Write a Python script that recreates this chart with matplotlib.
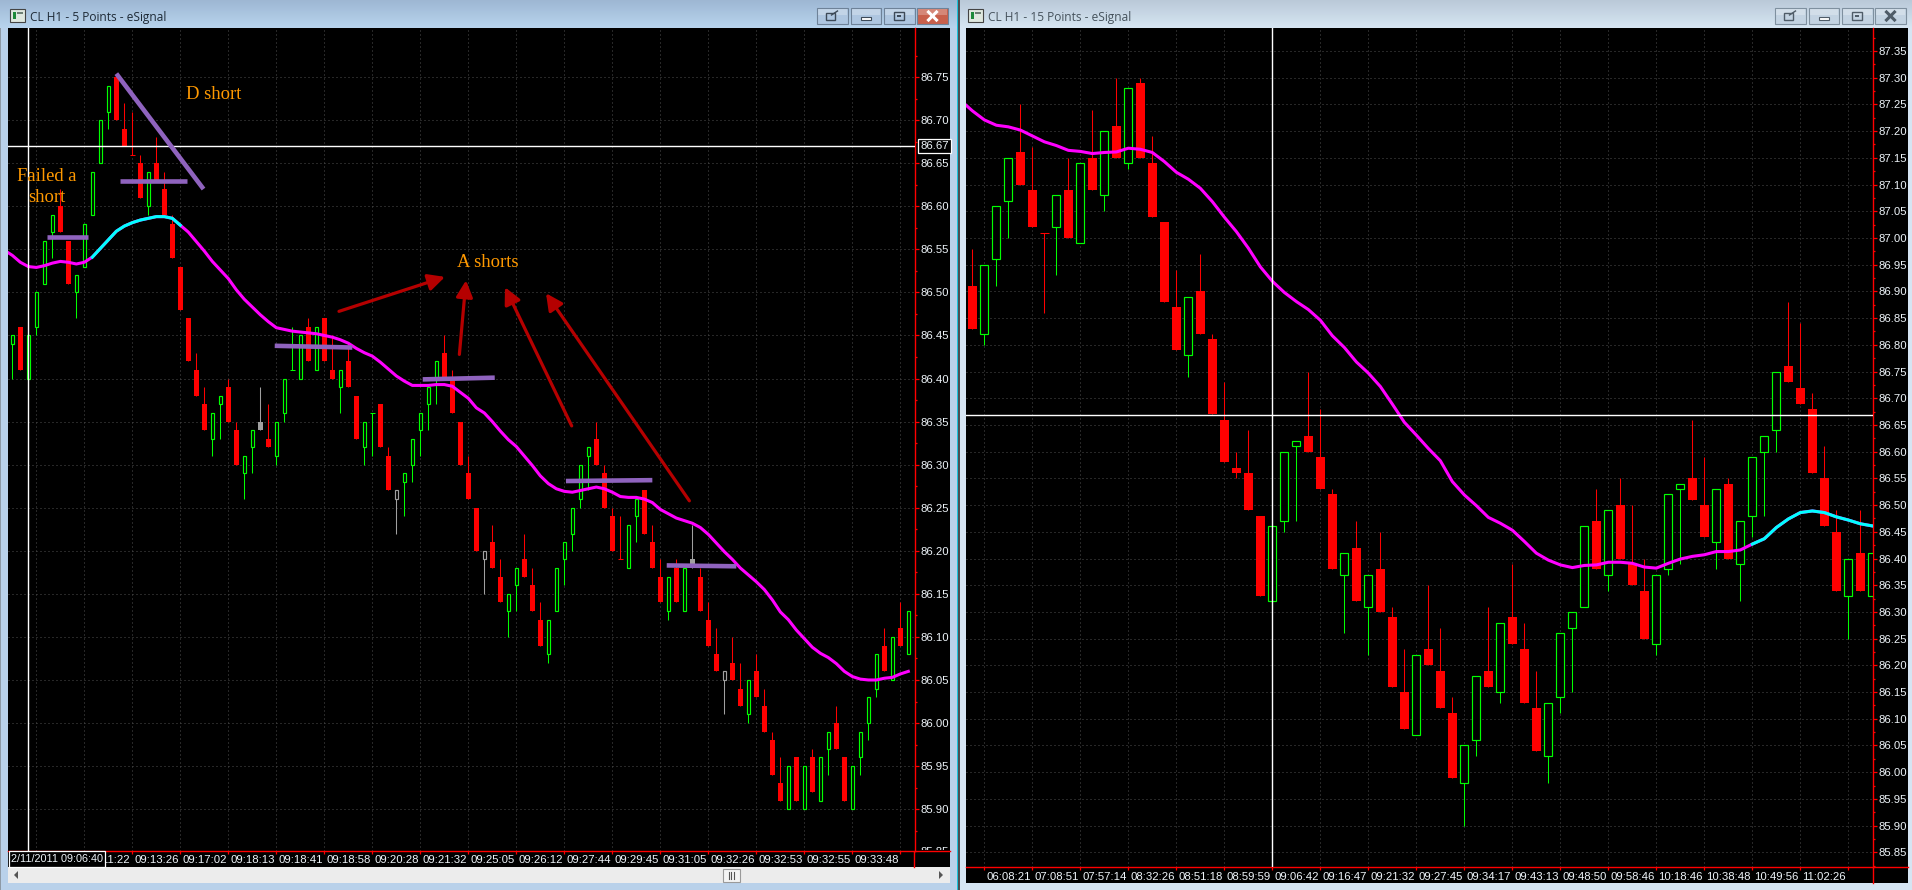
import numpy as np
import matplotlib
matplotlib.use('Agg')
import matplotlib.pyplot as plt
from matplotlib.patches import Rectangle, Polygon
from matplotlib.transforms import ScaledTranslation

# ---- 5 point chart: body top/bottom, high, low, kind (g up, r down, G grey hollow, R grey solid)
left_top = [86.45, 86.46, 86.45, 86.50, 86.56, 86.59, 86.60, 86.56, 86.52, 86.58,
            86.64, 86.70, 86.74, 86.75, 86.69, 86.66, 86.65, 86.64, 86.65, 86.62,
            86.58, 86.53, 86.47, 86.41, 86.37, 86.36, 86.38, 86.39, 86.34, 86.31,
            86.34, 86.35, 86.33, 86.35, 86.40, 86.41, 86.45, 86.46, 86.46, 86.47,
            86.41, 86.41, 86.42, 86.38, 86.35, 86.36, 86.37, 86.31, 86.27, 86.29,
            86.33, 86.36, 86.39, 86.42, 86.43, 86.40, 86.35, 86.29, 86.25, 86.20,
            86.21, 86.17, 86.15, 86.18, 86.19, 86.16, 86.12, 86.12, 86.18, 86.21,
            86.25, 86.30, 86.32, 86.33, 86.29, 86.24, 86.19, 86.23, 86.26, 86.27,
            86.21, 86.17, 86.17, 86.18, 86.18, 86.19, 86.17, 86.12, 86.08, 86.06,
            86.07, 86.04, 86.05, 86.06, 86.02, 85.98, 85.93, 85.95, 85.96, 85.95,
            85.96, 85.96, 85.99, 86.00, 85.96, 85.95, 85.99, 86.03, 86.08, 86.09,
            86.10, 86.11, 86.13]
left_bot = [86.44, 86.41, 86.40, 86.46, 86.51, 86.57, 86.57, 86.51, 86.50, 86.53,
            86.59, 86.65, 86.71, 86.70, 86.67, 86.66, 86.61, 86.60, 86.63, 86.59,
            86.54, 86.48, 86.42, 86.38, 86.34, 86.33, 86.37, 86.35, 86.30, 86.29,
            86.32, 86.34, 86.32, 86.31, 86.36, 86.41, 86.40, 86.42, 86.41, 86.42,
            86.40, 86.39, 86.39, 86.33, 86.32, 86.36, 86.32, 86.27, 86.26, 86.28,
            86.30, 86.34, 86.37, 86.40, 86.40, 86.36, 86.30, 86.26, 86.20, 86.19,
            86.18, 86.14, 86.13, 86.16, 86.17, 86.13, 86.09, 86.08, 86.13, 86.19,
            86.22, 86.26, 86.31, 86.30, 86.25, 86.20, 86.19, 86.18, 86.24, 86.22,
            86.18, 86.14, 86.13, 86.14, 86.13, 86.18, 86.13, 86.09, 86.06, 86.05,
            86.05, 86.02, 86.01, 86.03, 85.99, 85.94, 85.91, 85.90, 85.91, 85.90,
            85.92, 85.91, 85.97, 85.97, 85.91, 85.90, 85.96, 86.00, 86.04, 86.06,
            86.05, 86.09, 86.08]
left_high = [86.45, 86.46, 86.45, 86.50, 86.56, 86.59, 86.62, 86.56, 86.52, 86.58,
             86.64, 86.70, 86.74, 86.75, 86.72, 86.71, 86.66, 86.64, 86.68, 86.64,
             86.59, 86.53, 86.47, 86.43, 86.39, 86.36, 86.38, 86.40, 86.35, 86.31,
             86.34, 86.39, 86.37, 86.35, 86.40, 86.46, 86.45, 86.47, 86.46, 86.47,
             86.45, 86.41, 86.44, 86.38, 86.35, 86.36, 86.37, 86.32, 86.27, 86.29,
             86.33, 86.36, 86.39, 86.42, 86.45, 86.41, 86.35, 86.31, 86.25, 86.20,
             86.23, 86.19, 86.15, 86.18, 86.22, 86.18, 86.14, 86.12, 86.18, 86.21,
             86.25, 86.30, 86.32, 86.35, 86.30, 86.25, 86.24, 86.23, 86.26, 86.27,
             86.23, 86.19, 86.17, 86.19, 86.18, 86.23, 86.18, 86.14, 86.11, 86.06,
             86.10, 86.07, 86.05, 86.08, 86.04, 85.99, 85.96, 85.95, 85.96, 85.95,
             85.97, 85.96, 85.99, 86.02, 85.96, 85.95, 85.99, 86.03, 86.08, 86.11,
             86.10, 86.14, 86.13]
left_low = [86.40, 86.41, 86.40, 86.45, 86.51, 86.54, 86.57, 86.51, 86.47, 86.53,
            86.59, 86.65, 86.69, 86.70, 86.67, 86.66, 86.61, 86.59, 86.63, 86.59,
            86.54, 86.48, 86.42, 86.38, 86.34, 86.31, 86.33, 86.35, 86.30, 86.26,
            86.29, 86.34, 86.32, 86.30, 86.35, 86.41, 86.40, 86.42, 86.41, 86.42,
            86.40, 86.36, 86.39, 86.33, 86.30, 86.31, 86.32, 86.27, 86.22, 86.24,
            86.28, 86.31, 86.34, 86.37, 86.40, 86.36, 86.30, 86.26, 86.20, 86.15,
            86.18, 86.14, 86.10, 86.13, 86.17, 86.13, 86.09, 86.07, 86.13, 86.16,
            86.20, 86.25, 86.27, 86.30, 86.25, 86.20, 86.19, 86.18, 86.21, 86.22,
            86.18, 86.14, 86.12, 86.14, 86.13, 86.18, 86.13, 86.09, 86.06, 86.01,
            86.05, 86.02, 86.00, 86.03, 85.99, 85.94, 85.91, 85.90, 85.91, 85.90,
            85.92, 85.91, 85.94, 85.97, 85.91, 85.90, 85.94, 85.98, 86.03, 86.06,
            86.05, 86.09, 86.08]
left_kind = ('grggggrrgg' 'gggrrrrgrr' 'rrrrrggrrg' 'gRrggggrgr'
             'rgrrggrrGg' 'ggggrrrrrG' 'rrggrrrggg' 'gggrrrrggr'
             'rrgrgRrrrG' 'rrgrrrrgrg' 'rggrrggggr' 'grg')

left_ma = [86.549, 86.543, 86.535, 86.530, 86.529, 86.531, 86.534, 86.536, 86.535, 86.533,
           86.535, 86.541, 86.551, 86.561, 86.571, 86.577, 86.581, 86.584, 86.586, 86.588,
           86.588, 86.586, 86.578, 86.570, 86.559, 86.548, 86.536, 86.526, 86.516, 86.503,
           86.492, 86.483, 86.474, 86.466, 86.459, 86.457, 86.455, 86.454, 86.453, 86.452,
           86.450, 86.448, 86.445, 86.441, 86.435, 86.430, 86.426, 86.419, 86.411, 86.403,
           86.397, 86.392, 86.392, 86.392, 86.393, 86.393, 86.391, 86.384, 86.377, 86.366,
           86.360, 86.350, 86.339, 86.329, 86.321, 86.310, 86.299, 86.287, 86.278, 86.272,
           86.269, 86.268, 86.270, 86.272, 86.274, 86.272, 86.268, 86.263, 86.262, 86.262,
           86.260, 86.256, 86.248, 86.243, 86.238, 86.235, 86.232, 86.227, 86.219, 86.209,
           86.199, 86.190, 86.180, 86.172, 86.164, 86.155, 86.143, 86.129, 86.120, 86.108,
           86.098, 86.088, 86.081, 86.076, 86.069, 86.060, 86.054, 86.051, 86.050, 86.050,
           86.052, 86.053, 86.057, 86.060]

left_ticks = list(range(3, 112, 6))
left_times = ['', '09:11:22', '09:13:26', '09:17:02', '09:18:13', '09:18:41', '09:18:58',
              '09:20:28', '09:21:32', '09:25:05', '09:26:12', '09:27:44', '09:29:45',
              '09:31:05', '09:32:26', '09:32:53', '09:32:55', '09:33:48', '']

# drawn on the 5 point chart: index from, index to, price from, price to
purple_x = [[13.0, 23.9], [4.3, 9.5], [13.5, 21.8], [32.8, 42.5], [51.3, 60.3], [69.2, 80.0], [81.8, 90.5]]
purple_y = [[86.754, 86.620], [86.564, 86.564], [86.629, 86.629], [86.438, 86.436],
            [86.399, 86.401], [86.281, 86.282], [86.183, 86.182]]
arrow_tail = [(40.83, 86.478), (55.88, 86.428), (69.92, 86.345), (84.63, 86.258)]
arrow_tip = [(54.08, 86.518), (56.71, 86.514), (61.58, 86.506), (66.71, 86.499)]

# ---- 15 point chart
right_top = [86.91, 86.95, 87.06, 87.15, 87.16, 87.09, 87.01, 87.08, 87.09, 87.14,
             87.15, 87.20, 87.21, 87.28, 87.29, 87.14, 87.03, 86.87, 86.89, 86.90,
             86.81, 86.66, 86.57, 86.56, 86.48, 86.46, 86.60, 86.62, 86.63, 86.59,
             86.52, 86.41, 86.42, 86.37, 86.38, 86.29, 86.15, 86.22, 86.23, 86.19,
             86.11, 86.05, 86.18, 86.19, 86.28, 86.29, 86.23, 86.12, 86.13, 86.26,
             86.30, 86.46, 86.47, 86.49, 86.50, 86.39, 86.34, 86.37, 86.52, 86.54,
             86.55, 86.50, 86.53, 86.54, 86.47, 86.59, 86.63, 86.75, 86.76, 86.72,
             86.68, 86.55, 86.45, 86.40, 86.41, 86.41]
right_bot = [86.83, 86.82, 86.96, 87.07, 87.10, 87.02, 87.01, 87.02, 87.00, 86.99,
             87.09, 87.08, 87.15, 87.14, 87.15, 87.04, 86.88, 86.79, 86.78, 86.82,
             86.67, 86.58, 86.56, 86.49, 86.33, 86.32, 86.47, 86.61, 86.60, 86.53,
             86.38, 86.37, 86.32, 86.31, 86.30, 86.16, 86.08, 86.07, 86.20, 86.12,
             85.99, 85.98, 86.06, 86.16, 86.15, 86.24, 86.13, 86.04, 86.03, 86.14,
             86.27, 86.31, 86.38, 86.37, 86.40, 86.35, 86.25, 86.24, 86.38, 86.53,
             86.51, 86.44, 86.43, 86.40, 86.39, 86.48, 86.60, 86.64, 86.73, 86.69,
             86.56, 86.46, 86.34, 86.33, 86.34, 86.33]
right_high = [86.98, 86.95, 87.06, 87.15, 87.25, 87.17, 87.01, 87.08, 87.15, 87.14,
              87.24, 87.20, 87.30, 87.28, 87.30, 87.19, 87.03, 86.94, 86.89, 86.97,
              86.82, 86.73, 86.60, 86.64, 86.48, 86.46, 86.60, 86.62, 86.75, 86.68,
              86.53, 86.41, 86.47, 86.37, 86.45, 86.31, 86.23, 86.22, 86.35, 86.27,
              86.14, 86.05, 86.18, 86.31, 86.28, 86.39, 86.28, 86.19, 86.13, 86.26,
              86.30, 86.46, 86.53, 86.49, 86.55, 86.50, 86.40, 86.37, 86.52, 86.54,
              86.66, 86.59, 86.53, 86.55, 86.47, 86.59, 86.63, 86.75, 86.88, 86.84,
              86.71, 86.61, 86.49, 86.40, 86.49, 86.41]
right_low = [86.83, 86.80, 86.91, 87.00, 87.10, 87.02, 86.86, 86.93, 87.00, 86.99,
             87.09, 87.05, 87.15, 87.13, 87.15, 87.04, 86.88, 86.79, 86.74, 86.82,
             86.67, 86.58, 86.55, 86.49, 86.33, 86.31, 86.45, 86.47, 86.60, 86.53,
             86.38, 86.26, 86.32, 86.22, 86.30, 86.16, 86.08, 86.07, 86.20, 86.12,
             85.99, 85.90, 86.03, 86.16, 86.13, 86.24, 86.13, 86.04, 85.98, 86.11,
             86.15, 86.31, 86.38, 86.34, 86.40, 86.35, 86.25, 86.22, 86.37, 86.39,
             86.51, 86.44, 86.38, 86.40, 86.32, 86.44, 86.48, 86.60, 86.73, 86.69,
             86.56, 86.46, 86.34, 86.25, 86.34, 86.33]
right_kind = ('rgggrrrgrg' 'rgrgrrrrgr' 'rrrrrgggrr' 'rgrgrrrgrr'
              'rggrgrrrgg' 'ggrgrrrggg' 'rrgrggggrr' 'rrrgrg')

right_ma = [87.258, 87.238, 87.221, 87.211, 87.208, 87.202, 87.191, 87.180, 87.173, 87.164,
            87.162, 87.158, 87.160, 87.161, 87.168, 87.166, 87.160, 87.143, 87.123, 87.110,
            87.093, 87.068, 87.039, 87.012, 86.981, 86.946, 86.919, 86.898, 86.881, 86.866,
            86.846, 86.817, 86.795, 86.768, 86.747, 86.722, 86.689, 86.655, 86.631, 86.606,
            86.583, 86.544, 86.519, 86.499, 86.477, 86.466, 86.453, 86.432, 86.410, 86.397,
            86.388, 86.383, 86.387, 86.388, 86.393, 86.393, 86.391, 86.384, 86.382, 86.391,
            86.399, 86.404, 86.407, 86.413, 86.413, 86.416, 86.427, 86.437, 86.458, 86.474,
            86.486, 86.489, 86.486, 86.478, 86.472, 86.465, 86.461]

right_ticks = list(range(1, 74, 4))
right_times = ['06:08:21', '07:08:51', '07:57:14', '08:32:26', '08:51:18', '08:59:59',
               '09:06:42', '09:16:47', '09:21:32', '09:27:45', '09:34:17', '09:43:13',
               '09:48:50', '09:58:46', '10:18:46', '10:38:48', '10:49:56', '11:02:26', '']

RED = '#ff0000'
GREEN = '#00ff00'
GREY = '#a0a0a0'
MAGENTA = '#ff00ff'
CYAN = '#00ffff'
TEXT = '#eef4f9'
ORANGE = '#ff9900'
PURPLE = '#8f63be'
ARROW = '#b50000'
UI_FONT = ['Liberation Sans', 'DejaVu Sans']
TICK_SIZE = 8.2
W, H = 1912, 890


def place(fig, x0, y0, x1, y1, **kw):
    # axes from pixel box, origin top left
    return fig.add_axes([x0 / W, 1 - y1 / H, (x1 - x0) / W, (y1 - y0) / H], **kw)


def button(bg, x0, x1, face, edge):
    bg.add_patch(Rectangle((x0, 8), x1 - x0, 16, fc=face, ec=edge, lw=0.8))
    bg.add_patch(Rectangle((x0 + 1, 9), x1 - x0 - 2, 6, fc='white', alpha=0.25, lw=0))


def buttons(bg, xs, face, edge, glyph, close_face):
    for k, (x0, x1) in enumerate(xs):
        button(bg, x0, x1, close_face if k == 3 else face, edge)
        cx = (x0 + x1) / 2
        if k == 0:
            bg.add_patch(Rectangle((cx - 6, 13), 9, 7, fc='none', ec=glyph, lw=1))
            bg.plot([cx - 1, cx + 5], [15, 11], color=glyph, lw=1)
        elif k == 1:
            bg.add_patch(Rectangle((cx - 5, 16.5), 10, 3, fc='white', ec=glyph, lw=0.8))
        elif k == 2:
            bg.add_patch(Rectangle((cx - 5, 12), 10, 8, fc='none', ec=glyph, lw=1))
            bg.add_patch(Rectangle((cx - 2, 15), 4, 2, fc=glyph, lw=0))
        else:
            c = 'white' if close_face != face else glyph
            bg.plot([cx - 4, cx + 4], [12, 20], color=c, lw=2.2)
            bg.plot([cx - 4, cx + 4], [20, 12], color=c, lw=2.2)


def draw_chrome(bg):
    bg.set_xlim(0, W)
    bg.set_ylim(H, 0)
    bg.axis('off')
    bg.add_patch(Rectangle((0, 0), 957, H, fc='#b9d1ea', lw=0))
    bg.add_patch(Rectangle((960, 0), W - 960, H, fc='#d6e5f3', lw=0))
    bg.add_patch(Rectangle((957, 0), 1, H, fc='#19c3dc', lw=0))
    bg.add_patch(Rectangle((958, 0), 2, H, fc='#4a4f55', lw=0))
    bg.add_patch(Rectangle((0, 0), 1.5, H, fc='#8e9aa6', lw=0))

    grad = np.linspace(0, 1, 28)[:, None]
    for (x0, x1, c0, c1) in [(0, 957, (0.62, 0.72, 0.83), (0.72, 0.83, 0.93)),
                             (960, W, (0.73, 0.79, 0.85), (0.84, 0.90, 0.95))]:
        img = np.dstack([c0[j] + (c1[j] - c0[j]) * grad for j in range(3)])
        bg.imshow(img, extent=(x0, x1, 28, 0), aspect='auto', zorder=1)
    bg.set_xlim(0, W)
    bg.set_ylim(H, 0)

    # chart backgrounds and scroll bar
    bg.add_patch(Rectangle((8, 28), 942, 839, fc='black', lw=0, zorder=2))
    bg.add_patch(Rectangle((966, 28), 942, 855, fc='black', lw=0, zorder=2))
    bg.add_patch(Rectangle((8, 867), 942, 16, fc='#ececec', lw=0, zorder=2))
    bg.add_patch(Rectangle((723, 869), 17, 13, fc='#f4f4f4', ec='#9a9a9a', lw=0.8, zorder=3))
    for xb in [729, 731.5, 734]:
        bg.plot([xb, xb], [872, 879], color='#555555', lw=0.8, zorder=4)
    bg.add_patch(Polygon([[18, 871], [18, 879], [14, 875]], fc='#555555', lw=0, zorder=3))
    bg.add_patch(Polygon([[939, 871], [939, 879], [943, 875]], fc='#555555', lw=0, zorder=3))

    # the axis lines run on past the plot area
    bg.plot([914.5, 950], [850.5, 850.5], color=RED, lw=1, zorder=3)
    bg.plot([914.5, 914.5], [850.5, 867], color=RED, lw=1, zorder=3)
    bg.plot([1872.7, 1908], [867.3, 867.3], color=RED, lw=1, zorder=3)
    bg.plot([1872.7, 1872.7], [867.3, 883], color=RED, lw=1, zorder=3)

    # title bars
    for x0, title, col in [(10, 'CL H1 - 5 Points - eSignal', '#1e2a36'),
                           (968, 'CL H1 - 15 Points - eSignal', '#46525c')]:
        bg.add_patch(Rectangle((x0, 9), 15, 13, fc='#dfe8df', ec='#444444', lw=0.8, zorder=3))
        bg.add_patch(Rectangle((x0 + 3, 12), 3, 7, fc='#1d8a3a', lw=0, zorder=4))
        bg.add_patch(Rectangle((x0 + 7, 12), 6, 2, fc='#6d7f74', lw=0, zorder=4))
        bg.text(x0 + 20, 17, title, family=['Open Sans', 'DejaVu Sans'], fontsize=8.6,
                color=col, va='center', ha='left', zorder=4)
    buttons(bg, [(817, 848), (851, 881), (884, 915), (917, 948)], '#aec6e0', '#6e8298', '#3d4a58', '#c8604c')
    buttons(bg, [(1775, 1806), (1809, 1839), (1842, 1873), (1875, 1906)], '#c3d3e2', '#7f909f', '#4f5c68', '#c3d3e2')


def draw_candles(ax, top, bot, high, low, kind, hollow_w, solid_w):
    x = np.arange(len(top))
    top, bot, high, low = map(np.array, (top, bot, high, low))
    for key, col in [('g', GREEN), ('r', RED), ('G', GREY), ('R', GREY)]:
        m = np.array([k == key for k in kind])
        if not m.any():
            continue
        ax.vlines(x[m], low[m], high[m], color=col, lw=0.75, zorder=3)
        flat = top == bot
        ax.hlines(top[m & flat], x[m & flat] - solid_w / 2, x[m & flat] + solid_w / 2,
                  color=col, lw=0.75, zorder=3)
        body = m & ~flat
        if key in 'gG':
            ax.bar(x[body], top[body] - bot[body], hollow_w, bot[body], fc='black',
                   ec=col, lw=0.85, zorder=3.2)
        else:
            ax.bar(x[body], top[body] - bot[body], solid_w, bot[body], fc=col, lw=0, zorder=3.2)


def draw_ma(ax, ma, cyan_from, cyan_to):
    x = np.arange(-1, len(ma) - 1)
    ma = np.array(ma)
    ax.plot(x, ma, color=MAGENTA, lw=2.2, zorder=4)
    keep = (x >= cyan_from) & (x <= cyan_to)
    ax.plot(x[keep], ma[keep], color=CYAN, lw=2.2, zorder=4.1)


def style_axes(ax, fig, xlim, ylim, price_ticks, price_minor, ticks, times):
    ax.set_facecolor('black')
    ax.set_xlim(*xlim)
    ax.set_ylim(*ylim)
    for s in ['top', 'left']:
        ax.spines[s].set_visible(False)
    for s in ['right', 'bottom']:
        ax.spines[s].set_color(RED)
        ax.spines[s].set_linewidth(1)
    ax.yaxis.tick_right()
    ax.set_yticks(price_ticks)
    ax.set_yticklabels(['%.2f' % p for p in price_ticks], family=UI_FONT, fontsize=TICK_SIZE)
    ax.set_yticks(price_minor, minor=True)
    ax.set_xticks(ticks)
    ax.set_xticklabels(times, family=UI_FONT, fontsize=TICK_SIZE, ha='left')
    ax.tick_params(axis='y', which='major', colors=RED, labelcolor=TEXT, length=2.6, width=0.9, pad=1.6)
    ax.tick_params(axis='y', which='minor', colors=RED, length=1.4, width=0.9)
    ax.tick_params(axis='x', colors=RED, labelcolor=TEXT, length=2.2, width=0.9, pad=1.2)
    off = ScaledTranslation(2 / 100, 0, fig.dpi_scale_trans)
    for t in ax.get_xticklabels():
        t.set_transform(t.get_transform() + off)
    ax.set_axisbelow(True)
    ax.grid(True, color='#4e4e4e', linestyle=(0, (1, 3)), lw=0.72)


if __name__ == '__main__':
    fig = plt.figure(figsize=(W / 100, H / 100), dpi=100, facecolor='#b9d1ea')
    bg = fig.add_axes([0, 0, 1, 1])
    draw_chrome(bg)

    # left chart
    ax1 = place(fig, 8, 28, 914.5, 850.5)
    style_axes(ax1, fig, (-0.541, 112.77), (85.852, 86.807),
               [round(85.90 + 0.05 * k, 2) for k in range(18)],
               [round(85.875 + 0.05 * k, 3) for k in range(19)], left_ticks, left_times)
    draw_candles(ax1, left_top, left_bot, left_high, left_low, left_kind, 0.42, 0.625)
    draw_ma(ax1, left_ma, 10, 21)
    ax1.axhline(86.67, color='white', lw=1, zorder=5)
    ax1.axvline(2, color='white', lw=1, zorder=5)

    for xs, ys in zip(purple_x, purple_y):
        ax1.plot(xs, ys, color=PURPLE, lw=3.3, solid_capstyle='butt', zorder=6)
    for tail, tip in zip(arrow_tail, arrow_tip):
        ax1.annotate('', xy=tip, xytext=tail, zorder=6,
                     arrowprops=dict(arrowstyle='-|>,head_length=1.0,head_width=0.5', color=ARROW,
                                     lw=2.3, shrinkA=0, shrinkB=0, mutation_scale=10))

    serif = dict(family=['Liberation Serif', 'DejaVu Serif'], fontsize=13.4, color=ORANGE, zorder=7)
    ax1.text(21.7, 86.724, 'D short', ha='left', va='baseline', **serif)
    ax1.text(4.35, 86.629, 'Failed a', ha='center', va='baseline', **serif)
    ax1.text(4.35, 86.605, 'short', ha='center', va='baseline', **serif)
    ax1.text(55.54, 86.529, 'A shorts', ha='left', va='baseline', **serif)

    # price box of the cross hair and the cut off 85.85
    label_x = ax1.get_yaxis_transform()
    ax1.text(1.0062, 86.67, '86.67', transform=label_x, family=UI_FONT, fontsize=TICK_SIZE, color=TEXT,
             va='center', ha='left', clip_on=False, zorder=8,
             bbox=dict(boxstyle='square,pad=0.2', fc='black', ec='white', lw=0.9))
    cut = ax1.text(1.0062, 85.85, '85.85', transform=label_x, family=UI_FONT, fontsize=TICK_SIZE,
                   color=TEXT, va='center', ha='left', zorder=8)
    cut.set_clip_path(Rectangle((915, 840), 35, 10, transform=bg.transData))
    cut.set_clip_on(True)

    # date box covers the first time labels
    ax1.add_patch(Rectangle((9, 851), 96.5, 15.5, transform=bg.transData, fc='black', ec='white',
                            lw=0.9, clip_on=False, zorder=9))
    ax1.text(57.2, 859, '2/11/2011 09:06:40', transform=bg.transData, family=UI_FONT, fontsize=7.8,
             color=TEXT, ha='center', va='center', clip_on=False, zorder=10)

    # right chart
    ax2 = place(fig, 966, 28, 1872.7, 867.3)
    style_axes(ax2, fig, (-0.528, 75.03), (85.822, 87.393),
               [round(85.85 + 0.05 * k, 2) for k in range(31)],
               [round(85.825 + 0.05 * k, 3) for k in range(32)], right_ticks, right_times)
    draw_candles(ax2, right_top, right_bot, right_high, right_low, right_kind, 0.64, 0.75)
    draw_ma(ax2, right_ma, 65, 75)
    ax2.axhline(86.668, color='white', lw=1, zorder=5)
    ax2.axvline(25, color='white', lw=1, zorder=5)

    fig.savefig('out.png', dpi=100, facecolor=fig.get_facecolor())
